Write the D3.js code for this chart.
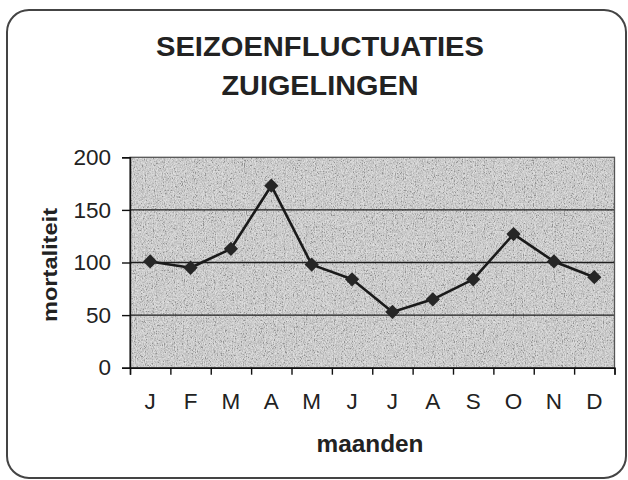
<!DOCTYPE html>
<html>
<head>
<meta charset="utf-8">
<script src="https://cdn.jsdelivr.net/npm/d3@7"></script>
<style>
  html, body { margin: 0; padding: 0; background: #fff; }
  svg { display: block; font-family: "Liberation Sans", Arial, sans-serif; }
</style>
</head>
<body>
<div id="chart"></div>
<script>
// data
const months = ["J", "F", "M", "A", "M", "J", "J", "A", "S", "O", "N", "D"];
const mortality = [101, 95, 113, 173, 98, 84, 53, 65, 84, 127, 101, 86];
const yTicks = [0, 50, 100, 150, 200];
const gridValues = [50, 100, 150];
const titleLines = ["SEIZOENFLUCTUATIES", "ZUIGELINGEN"];

const width = 628, height = 480;
const plot = {left: 130, right: 614.5, top: 157.3, bottom: 367.7};
const ink = "#222";

const svg = d3.select("#chart").append("svg")
  .attr("width", width)
  .attr("height", height);

// speckled grey texture like the print
const defs = svg.append("defs");
const noise = defs.append("filter").attr("id", "grain")
  .attr("x", 0).attr("y", 0).attr("width", "100%").attr("height", "100%");
noise.append("feTurbulence")
  .attr("type", "fractalNoise")
  .attr("baseFrequency", "1.1 0.6")
  .attr("numOctaves", 2)
  .attr("seed", 3);
noise.append("feColorMatrix")
  .attr("type", "matrix")
  .attr("values", "1.4 1.4 0.6 0 -1.2  1.4 1.4 0.6 0 -1.2  1.4 1.4 0.6 0 -1.2  0 0 0 0 1");

// outer rounded frame
svg.append("rect")
  .attr("x", 7).attr("y", 10)
  .attr("width", 619).attr("height", 468)
  .attr("rx", 22).attr("ry", 22)
  .attr("fill", "none")
  .attr("stroke", "#444")
  .attr("stroke-width", 2);

// title
svg.selectAll("text.title")
  .data(titleLines)
  .enter()
  .append("text")
  .attr("class", "title")
  .attr("x", 320)
  .attr("y", (d, i) => 56 + i * 39)
  .attr("text-anchor", "middle")
  .attr("font-size", 27)
  .attr("font-weight", "bold")
  .attr("fill", ink)
  .attr("textLength", (d, i) => i === 0 ? 328 : 197)
  .attr("lengthAdjust", "spacingAndGlyphs")
  .text(d => d);

// scales
const idx = months.map((m, i) => i);
const x = d3.scaleBand()
  .domain(idx)
  .range([plot.left, plot.right]);
const xEdge = d3.scaleLinear()
  .domain([0, months.length])
  .range([plot.left, plot.right]);
const y = d3.scaleLinear()
  .domain([0, 200])
  .range([plot.bottom, plot.top]);

// plot area background
svg.append("rect")
  .attr("x", plot.left).attr("y", plot.top)
  .attr("width", plot.right - plot.left)
  .attr("height", plot.bottom - plot.top)
  .attr("fill", "#d2d2d2");
svg.append("rect")
  .attr("x", plot.left).attr("y", plot.top)
  .attr("width", plot.right - plot.left)
  .attr("height", plot.bottom - plot.top)
  .attr("filter", "url(#grain)")
  .attr("opacity", 0.3);

// gridlines
svg.selectAll("line.grid")
  .data(gridValues)
  .enter()
  .append("line")
  .attr("class", "grid")
  .attr("x1", plot.left).attr("x2", plot.right)
  .attr("y1", d => y(d)).attr("y2", d => y(d))
  .attr("stroke", "#1e1e1e")
  .attr("stroke-width", 1.3);

// plot border
svg.append("rect")
  .attr("x", plot.left).attr("y", plot.top)
  .attr("width", plot.right - plot.left)
  .attr("height", plot.bottom - plot.top)
  .attr("fill", "none")
  .attr("stroke", "#555")
  .attr("stroke-width", 1.3);

// y axis
const yAxis = svg.append("g")
  .attr("transform", "translate(" + plot.left + ",0)")
  .call(d3.axisLeft(y).tickValues(yTicks).tickSize(8).tickPadding(11));
yAxis.selectAll("text")
  .attr("font-size", 22.5)
  .attr("font-family", "Liberation Sans, Arial, sans-serif")
  .attr("fill", ink);

// x axis: tick marks on the month boundaries
const xAxis = svg.append("g")
  .attr("transform", "translate(0," + plot.bottom + ")")
  .call(d3.axisBottom(xEdge).tickValues(d3.range(months.length + 1)).tickSize(7).tickFormat(""));

// month labels in the middle of each band
const xLabels = svg.append("g")
  .attr("transform", "translate(0," + plot.bottom + ")")
  .call(d3.axisBottom(x).tickSize(0).tickPadding(25).tickFormat(i => months[i]));
xLabels.select(".domain").remove();
xLabels.selectAll("text")
  .attr("font-size", 22.5)
  .attr("font-family", "Liberation Sans, Arial, sans-serif")
  .attr("fill", ink);

svg.selectAll(".domain, .tick line")
  .attr("stroke", "#111")
  .attr("stroke-width", 1.4);

// axis titles
svg.append("text")
  .attr("transform", "translate(57,265) rotate(-90)")
  .attr("text-anchor", "middle")
  .attr("font-size", 20.5)
  .attr("font-weight", "bold")
  .attr("fill", ink)
  .attr("textLength", 114)
  .attr("lengthAdjust", "spacingAndGlyphs")
  .text("mortaliteit");

svg.append("text")
  .attr("x", 370)
  .attr("y", 452)
  .attr("text-anchor", "middle")
  .attr("font-size", 23)
  .attr("font-weight", "bold")
  .attr("fill", ink)
  .attr("textLength", 107)
  .attr("lengthAdjust", "spacingAndGlyphs")
  .text("maanden");

// series line and diamond markers
const cx = i => x(i) + x.bandwidth() / 2;
const line = d3.line()
  .x((d, i) => cx(i))
  .y(d => y(d));

svg.append("path")
  .datum(mortality)
  .attr("d", line)
  .attr("fill", "none")
  .attr("stroke", "#1a1a1a")
  .attr("stroke-width", 2.6)
  .attr("stroke-linejoin", "round");

svg.selectAll("path.marker")
  .data(mortality)
  .enter()
  .append("path")
  .attr("class", "marker")
  .attr("d", d3.symbol().type(d3.symbolDiamond2).size(130))
  .attr("transform", (d, i) => "translate(" + cx(i) + "," + y(d) + ")")
  .attr("fill", "#262626");
</script>
</body>
</html>
